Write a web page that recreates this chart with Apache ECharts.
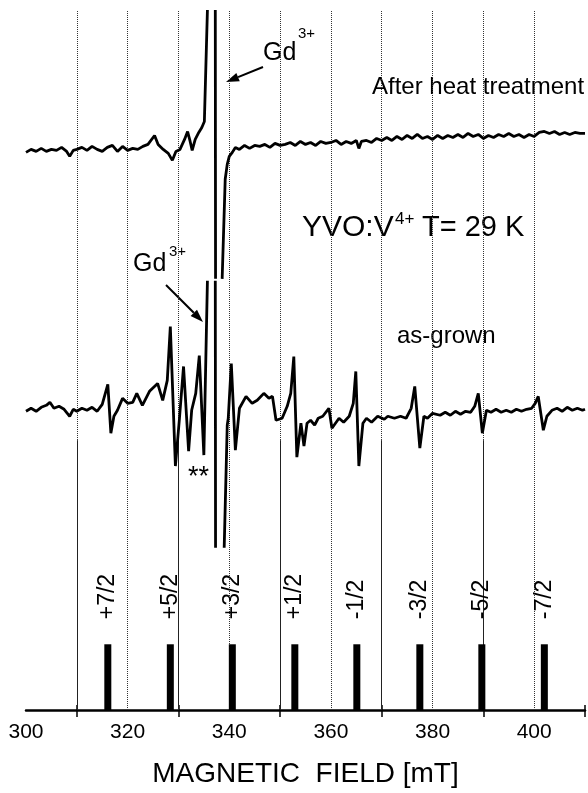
<!DOCTYPE html>
<html>
<head>
<meta charset="utf-8">
<title>YVO:V4+ EPR</title>
<script src="https://cdn.jsdelivr.net/npm/echarts@6/dist/echarts.min.js"></script>
<style>
  html, body { margin: 0; padding: 0; background: #fff; }
  #main { width: 588px; height: 793px; }
</style>
</head>
<body>
<div id="main"></div>
<script>
    const FONT = '"Liberation Sans", Arial, sans-serif';

    // x axis: magnetic field [mT]
    const FIELD_MIN = 300;
    const FIELD_MAX = 410;
    const LABEL_FIELDS = [300, 320, 340, 360, 380, 400];
    const TICK_FIELDS = [310, 330, 350, 370, 390, 410];
    const DOTTED_FIELDS = [310, 320, 330, 340, 350, 360, 370, 380, 390, 400];
    const DROP_FIELDS = [310, 330, 350, 370, 390];
    const DROP_TOP = 271;

    // hyperfine stick positions
    const STICK_FIELDS = [316.1, 328.4, 340.6, 352.9, 365.1, 377.5, 389.7, 402.0];
    const STICK_HEIGHTS = [66, 66, 66, 66, 66, 66, 66, 66];
    const STICK_LABELS = ['+7/2', '+5/2', '+3/2', '+1/2', '-1/2', '-3/2', '-5/2', '-7/2'];

    // spectrum after heat treatment (field, signal); '-' = trace cut off
    const AFTER_HEAT = [
        [300, 560], [301, 563], [302, 561], [303, 564], [304, 561], [305, 563], [306, 562], [307, 565],
        [308, 561], [308.6, 556], [309.3, 562], [310, 563], [311, 565], [312, 562], [313, 566], [314, 563],
        [315, 561], [316, 565], [317, 567], [318, 561], [319, 566], [320, 562], [321, 564], [322, 563],
        [323, 566], [324, 568], [325.3, 577], [326, 568], [327, 563], [328, 559], [328.8, 552], [329.5, 561],
        [330.3, 563], [331.2, 573], [331.8, 581], [332.3, 571], [332.7, 562], [333.3, 573], [334, 580],
        [334.6, 585], [335.1, 591], [335.7, 703], [336.5, '-'], [337.25, 703], [337.3, 433], [338, '-'],
        [338.6, 433], [339.2, 533], [339.6, 548], [340.0, 556], [340.6, 560], [341.2, 565], [342, 563],
        [343, 567], [344, 564], [345, 567], [346, 566], [347, 568], [348, 565], [349, 569], [350, 567],
        [351, 568], [352, 570], [353, 567], [354, 571], [355, 568], [356, 570], [357, 567], [358, 571],
        [359, 569], [360, 570], [361, 572], [362, 568], [363, 571], [364, 569], [365, 572], [365.5, 564],
        [366, 571], [367, 572], [368, 570], [369, 574], [370, 572], [371, 575], [372, 572], [373, 576],
        [374, 573], [375, 577], [376, 574], [377, 578], [378, 574], [379, 576], [380, 573], [381, 577],
        [382, 574], [383, 577], [384, 575], [385, 578], [386, 575], [387, 579], [388, 576], [389, 578],
        [390, 574], [391, 577], [392, 575], [393, 578], [394, 576], [395, 579], [396, 576], [397, 578],
        [398, 575], [399, 578], [400, 576], [401, 580], [402, 581], [403, 579], [404, 581], [405, 578],
        [406, 580], [407, 578], [408, 580], [409, 579], [410, 579]
    ];

    // as-grown spectrum (field, signal)
    const AS_GROWN = [
        [300, 300], [301, 303], [302, 300], [303, 304], [304, 306], [304.7, 309], [305.5, 303], [306.5, 305],
        [307.5, 302], [308.6, 295], [309.3, 302], [310, 300], [311, 303], [312, 301], [313, 304], [314, 300],
        [315, 307], [316.1, 327], [316.7, 278], [317.3, 295], [318, 301], [319, 313], [320, 308], [321, 309],
        [321.8, 318], [322.9, 306], [324.3, 320], [325.9, 328], [326.9, 311], [327.8, 331], [328.4, 385],
        [329.4, 245], [330.2, 293], [331, 345], [332, 260], [332.6, 301], [333.4, 318], [334.1, 356],
        [335, 256], [335.7, 431], [336.5, '-'], [337.25, 431], [337.3, 163], [338.2, '-'], [339.0, 163],
        [339.6, 286], [339.8, 293], [340.4, 348], [341.2, 261], [342, 303], [343.3, 315], [344.5, 308],
        [345.5, 311], [346.8, 318], [347.8, 313], [348.5, 315], [349.2, 291], [350.4, 293], [351.4, 305],
        [352.1, 318], [352.7, 355], [353.3, 254], [354.1, 288], [354.7, 265], [355.3, 288], [356, 291],
        [356.8, 286], [357.5, 293], [358.4, 295], [359.6, 303], [360.2, 283], [361.6, 293], [362.5, 289],
        [363.6, 295], [364.4, 308], [364.9, 340], [365.5, 245], [366.3, 288], [367, 293], [368, 289],
        [369.2, 295], [370.5, 292], [371.2, 295], [372.5, 293], [373.7, 295], [374.8, 293], [375.8, 303],
        [376.5, 325], [377.5, 263], [378.3, 295], [379, 293], [380, 298], [381.5, 296], [382.5, 299],
        [383.5, 296], [384.5, 300], [385.5, 297], [386.5, 300], [387.5, 299], [388.3, 305], [389, 318],
        [389.8, 278], [390.6, 301], [391.5, 299], [392.5, 302], [393.5, 299], [394.5, 301], [395.5, 299],
        [396.5, 302], [397.5, 300], [398.5, 302], [399.5, 303], [400.2, 308], [400.8, 315], [401.8, 281],
        [402.5, 295], [403.5, 301], [404.5, 303], [405.5, 300], [406.5, 304], [407.5, 301], [408.5, 303],
        [409.5, 301], [410, 302]
    ];

    function arrow(x1, y1, x2, y2) {
        const dx = x2 - x1, dy = y2 - y1;
        const len = Math.hypot(dx, dy);
        const ux = dx / len, uy = dy / len;
        const hl = 13, hw = 4.5;
        const bx = x2 - ux * hl, by = y2 - uy * hl;
        return [
            { type: 'line', shape: { x1: x1, y1: y1, x2: bx, y2: by }, style: { stroke: '#000', lineWidth: 2 } },
            {
                type: 'polygon',
                shape: { points: [[x2, y2], [bx - uy * hw, by + ux * hw], [bx + uy * hw, by - ux * hw]] },
                style: { fill: '#000' }
            }
        ];
    }

    function txt(x, y, text, size) {
        return {
            type: 'text', x: x, y: y,
            style: { text: text, fill: '#000', fontSize: size, fontFamily: FONT, align: 'left', verticalAlign: 'middle' }
        };
    }

    const dottedLines = DOTTED_FIELDS.map(f => ({ xAxis: f }));
    const dropLines = DROP_FIELDS.map(f => [{ coord: [f, DROP_TOP] }, { coord: [f, 0] }]);

    const chart = echarts.init(document.getElementById('main'));

    chart.setOption({
        animation: false,
        backgroundColor: '#fff',
        grid: { left: 26, right: 3, top: 10, bottom: 80 },
        xAxis: [
            {
                type: 'value', min: FIELD_MIN, max: FIELD_MAX, interval: 10,
                axisLine: { lineStyle: { color: '#000', width: 2.5 } },
                axisTick: { customValues: TICK_FIELDS, length: 7, lineStyle: { color: '#000', width: 1.5 } },
                axisLabel: { customValues: LABEL_FIELDS, color: '#000', fontSize: 21, fontFamily: FONT, margin: 12 },
                splitLine: { show: false },
                name: 'MAGNETIC  FIELD [mT]',
                nameLocation: 'middle',
                nameGap: 50,
                nameTextStyle: { color: '#000', fontSize: 28, fontFamily: FONT }
            },
            {
                type: 'value', min: FIELD_MIN, max: FIELD_MAX, position: 'bottom',
                axisLine: { show: false },
                axisTick: { customValues: TICK_FIELDS, inside: true, length: 5, lineStyle: { color: '#000', width: 1.5 } },
                axisLabel: { show: false },
                splitLine: { show: false }
            }
        ],
        yAxis: { type: 'value', min: 0, max: 703, show: false },
        series: [
            {
                type: 'bar',
                data: STICK_FIELDS.map((f, i) => [f, STICK_HEIGHTS[i]]),
                barWidth: 7,
                itemStyle: { color: '#000' },
                z: 3,
                label: {
                    show: true,
                    position: 'top',
                    rotate: 90,
                    align: 'left',
                    verticalAlign: 'middle',
                    distance: 25,
                    fontSize: 23,
                    fontFamily: FONT,
                    color: '#000',
                    formatter: p => STICK_LABELS[p.dataIndex]
                },
                markLine: {
                    silent: true,
                    z: 1,
                    symbol: 'none',
                    label: { show: false },
                    data: dottedLines,
                    lineStyle: { color: '#333', type: 'dotted', width: 1 }
                }
            },
            {
                type: 'line',
                data: [],
                markLine: {
                    silent: true,
                    z: 1,
                    symbol: 'none',
                    label: { show: false },
                    data: dropLines,
                    lineStyle: { color: '#222', type: 'solid', width: 1 }
                }
            },
            {
                type: 'line',
                data: AFTER_HEAT,
                showSymbol: false,
                connectNulls: false,
                lineStyle: { color: '#000', width: 2.8 },
                z: 2
            },
            {
                type: 'line',
                data: AS_GROWN,
                showSymbol: false,
                connectNulls: false,
                lineStyle: { color: '#000', width: 2.8 },
                z: 2
            }
        ],
        graphic: [
            txt(263, 53, 'Gd', 25),
            txt(298, 34, '3+', 15),
            ...arrow(263, 67, 226, 82),
            txt(372, 87, 'After heat treatment', 24),
            txt(302, 228, 'YVO:V', 30),
            txt(395, 219, '4+', 17),
            txt(422, 228, 'T= 29 K', 29),
            txt(133, 264, 'Gd', 25),
            txt(169, 252, '3+', 15),
            ...arrow(166, 285, 203, 322),
            txt(397, 336, 'as-grown', 24),
            txt(188, 478, '**', 27)
        ]
    });
</script>
</body>
</html>
